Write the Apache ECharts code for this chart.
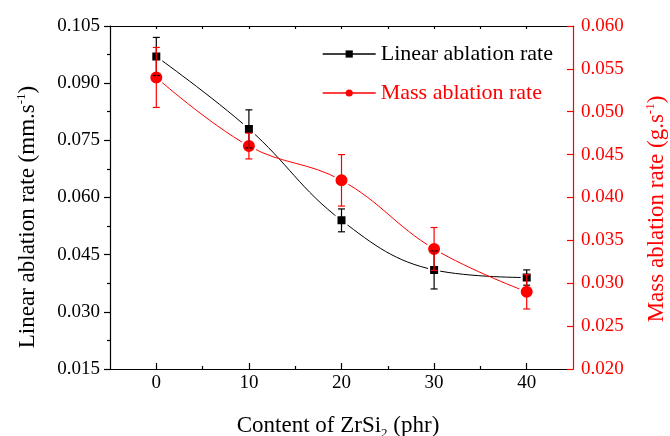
<!DOCTYPE html>
<html>
<head>
<meta charset="utf-8">
<script src="https://cdn.jsdelivr.net/npm/echarts@6/dist/echarts.min.js"></script>
<style>html,body{margin:0;padding:0;background:#fff;}#c{width:670px;height:436px;}</style>
</head>
<body>
<div id="c"></div>
<script>
// ---- data ----
const contents = [0, 10, 20, 30, 40];
const linearRate = [0.097, 0.078, 0.054, 0.041, 0.039];
const linearErr = [0.005, 0.005, 0.003, 0.005, 0.002];
const massRate = [0.054, 0.046, 0.042, 0.034, 0.029];
const massErr = [0.0035, 0.0015, 0.003, 0.0025, 0.002];
const xMajorTicks = [0, 10, 20, 30, 40];
const xMinorTicks = [5, 15, 25, 35];
const xAllTicks = [0, 5, 10, 15, 20, 25, 30, 35, 40];

const FONT = '"Liberation Serif", "Times New Roman", serif';
const RED = '#ff0000';

const linearData = contents.map((x, i) => [x, linearRate[i]]);
const massData = contents.map((x, i) => [x, massRate[i]]);
const linearErrData = contents.map((x, i) => [x, linearRate[i] - linearErr[i], linearRate[i] + linearErr[i]]);
const massErrData = contents.map((x, i) => [x, massRate[i] - massErr[i], massRate[i] + massErr[i]]);

function errRender(color, capHalf) {
  return function (params, api) {
    const x = api.value(0);
    const p1 = api.coord([x, api.value(2)]);
    const p2 = api.coord([x, api.value(1)]);
    const st = { stroke: color, lineWidth: 1.2 };
    return {
      type: 'group',
      children: [
        { type: 'line', shape: { x1: p1[0], y1: p1[1], x2: p2[0], y2: p2[1] }, style: st },
        { type: 'line', shape: { x1: p1[0] - capHalf, y1: p1[1], x2: p1[0] + capHalf, y2: p1[1] }, style: st },
        { type: 'line', shape: { x1: p2[0] - capHalf, y1: p2[1], x2: p2[0] + capHalf, y2: p2[1] }, style: st }
      ]
    };
  };
}

const chart = echarts.init(document.getElementById('c'), null, { renderer: 'canvas' });
const option = {
  backgroundColor: '#fff',
  animation: false,
  grid: { left: 110, right: 97, top: 26, bottom: 67, containLabel: false },
  legend: {
    orient: 'vertical',
    left: 322,
    top: 43,
    padding: 0,
    itemWidth: 53,
    itemHeight: 9,
    itemGap: 17,
    itemStyle: { borderWidth: 0 },
    lineStyle: { width: 1.4 },
    textStyle: { fontFamily: FONT, fontSize: 22, lineHeight: 20, padding: [0, 0, 0, 0] },
    data: [
      { name: 'Linear ablation rate', textStyle: { color: '#000' } },
      { name: 'Mass ablation rate', textStyle: { color: RED } }
    ]
  },
  xAxis: [
    {
      type: 'value', position: 'bottom', min: -5, max: 45,
      axisLine: { show: true, onZero: false, lineStyle: { color: '#000', width: 1.2 } },
      axisTick: { show: true, inside: true, length: 6, customValues: xMajorTicks, lineStyle: { color: '#000', width: 1.2 } },
      axisLabel: { customValues: xMajorTicks, margin: 5, color: '#000', fontFamily: FONT, fontSize: 19 },
      splitLine: { show: false }
    },
    {
      type: 'value', position: 'bottom', min: -5, max: 45,
      axisLine: { show: false, onZero: false },
      axisTick: { show: true, inside: true, length: 3, customValues: xMinorTicks, lineStyle: { color: '#000', width: 1.2 } },
      axisLabel: { show: false },
      splitLine: { show: false }
    },
    {
      type: 'value', position: 'top', min: -5, max: 45,
      axisLine: { show: true, onZero: false, lineStyle: { color: '#000', width: 1.2 } },
      axisTick: { show: true, inside: true, length: 3, customValues: xAllTicks, lineStyle: { color: '#000', width: 1.2 } },
      axisLabel: { show: false },
      splitLine: { show: false }
    }
  ],
  yAxis: [
    {
      type: 'value', position: 'left', min: 0.015, max: 0.105, interval: 0.015,
      axisLine: { show: true, onZero: false, lineStyle: { color: '#000', width: 1.2 } },
      axisTick: { show: true, inside: false, length: 6, lineStyle: { color: '#000', width: 1.2 } },
      minorTick: { show: true, splitNumber: 2, length: 3, lineStyle: { color: '#000', width: 1.2 } },
      axisLabel: { margin: 10, color: '#000', fontFamily: FONT, fontSize: 19, formatter: v => v.toFixed(3) },
      splitLine: { show: false }
    },
    {
      type: 'value', position: 'right', min: 0.020, max: 0.060, interval: 0.005,
      axisLine: { show: true, onZero: false, lineStyle: { color: RED, width: 1.2 } },
      axisTick: { show: true, inside: true, length: 6, lineStyle: { color: RED, width: 1.2 } },
      axisLabel: { margin: 8, color: RED, fontFamily: FONT, fontSize: 19, formatter: v => v.toFixed(3) },
      splitLine: { show: false }
    }
  ],
  series: [
    {
      name: 'Linear ablation rate', type: 'line', xAxisIndex: 0, yAxisIndex: 0,
      data: linearData, smooth: 0.4, symbol: 'rect', symbolSize: 10,
      color: '#000',
      lineStyle: { color: '#000', width: 1 },
      itemStyle: { color: '#000', borderColor: '#fff', borderWidth: 2 },
      z: 3
    },
    {
      name: 'Mass ablation rate', type: 'line', xAxisIndex: 0, yAxisIndex: 1,
      data: massData, smooth: 0.4, symbol: 'circle', symbolSize: 14,
      color: RED,
      lineStyle: { color: RED, width: 1 },
      itemStyle: { color: RED, borderColor: '#fff', borderWidth: 2 },
      z: 3
    },
    {
      type: 'custom', xAxisIndex: 0, yAxisIndex: 0, data: linearErrData,
      renderItem: errRender('#000', 3.5), z: 5, silent: true,
      encode: { x: 0, y: [1, 2] }
    },
    {
      type: 'custom', xAxisIndex: 0, yAxisIndex: 1, data: massErrData,
      renderItem: errRender(RED, 3.5), z: 5, silent: true,
      encode: { x: 0, y: [1, 2] }
    }
  ],
  graphic: [
    {
      type: 'text', x: 27, y: 217, rotation: Math.PI / 2,
      style: {
        text: '{a|Linear ablation rate (mm.s}{s|-1}{a|)}',
        align: 'center', verticalAlign: 'middle',
        rich: {
          a: { fontFamily: FONT, fontSize: 23, fill: '#000', color: '#000', lineHeight: 24, verticalAlign: 'bottom' },
          s: { fontFamily: FONT, fontSize: 13, fill: '#000', color: '#000', lineHeight: 24, verticalAlign: 'top' }
        }
      }
    },
    {
      type: 'text', x: 656, y: 209, rotation: Math.PI / 2,
      style: {
        text: '{a|Mass ablation rate (g.s}{s|-1}{a|)}',
        align: 'center', verticalAlign: 'middle',
        rich: {
          a: { fontFamily: FONT, fontSize: 23, fill: RED, color: RED, lineHeight: 24, verticalAlign: 'bottom' },
          s: { fontFamily: FONT, fontSize: 13, fill: RED, color: RED, lineHeight: 24, verticalAlign: 'top' }
        }
      }
    },
    {
      type: 'text', x: 338, y: 427,
      style: {
        text: '{a|Content of ZrSi}{s|2}{a| (phr)}',
        align: 'center', verticalAlign: 'middle',
        rich: {
          a: { fontFamily: FONT, fontSize: 23, fill: '#000', color: '#000', lineHeight: 26, verticalAlign: 'top' },
          s: { fontFamily: FONT, fontSize: 13, fill: '#000', color: '#000', lineHeight: 26, verticalAlign: 'bottom' }
        }
      }
    }
  ]
};
chart.setOption(option);
</script>
</body>
</html>
